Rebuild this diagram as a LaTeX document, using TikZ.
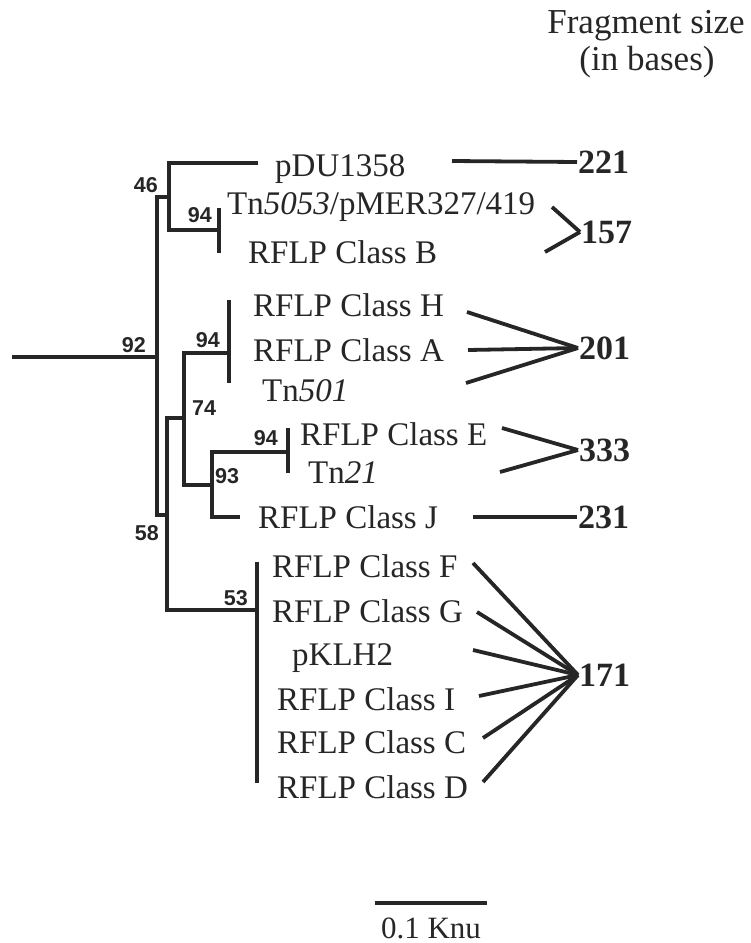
\documentclass[tikz,border=0pt]{standalone}
\usepackage{fontspec}
\setmainfont{Liberation Serif}
\newfontfamily\bootfont{Liberation Sans}
\usepackage{xcolor}
\usetikzlibrary{positioning}

\begin{document}
\begin{tikzpicture}[x=1pt, y=-1pt, color=black!85,
  br/.style={line width=3.6pt},
  cn/.style={line width=3.8pt},
  leaf/.style={anchor=base west, inner sep=0pt, font=\fontsize{33}{36}\selectfont},
  boot/.style={inner sep=0pt, font=\bootfont\bfseries\fontsize{21.5}{23}\selectfont},
  size/.style={anchor=west, inner sep=1pt, font=\bfseries\fontsize{34}{36}\selectfont}]
  \useasboundingbox (0,0) rectangle (751,943);

  % branch points of the tree
  \coordinate (root) at (12,357);
  \coordinate (c92) at (157,357);
  \coordinate (c46) at (169,197);
  \coordinate (c58) at (167,515);
  \coordinate (c94a) at (219,230);
  \coordinate (c74) at (184,418);
  \coordinate (c94b) at (229,353);
  \coordinate (c93) at (212,485);
  \coordinate (c94c) at (288,452);
  \coordinate (c53) at (257,610);
  \coordinate (tpdu) at (258,163);
  \coordinate (tj) at (240,517);

  \draw[br] (root) -- (c92);
  \draw[br] (c46) -| (c92) |- (c58);
  \draw[br] (tpdu) -| (c46) |- (c94a);
  \draw[br] (c74) -| (c58) |- (c53);
  \draw[br] (c94b) -| (c74) |- (c93);
  \draw[br] (c94c) -| (c93) |- (tj);
  \foreach \c/\up/\dn in {c94a/22/23, c94b/53/30, c94c/24/21, c53/48/173}
    \draw[br] (\c) ++(0,-\up) -- ++(0,\up+\dn);

  % bootstrap values
  \foreach \n/\x/\y/\v in {b46/158/192/46, b92/146/352/92, b94a/212/222/94,
                           b94b/220/347/94, b94c/278/445/94, b58/159/540/58, b53/248/605/53}
    \node[boot, anchor=base east] (\n) at (\x,\y) {\v};
  \node[boot, anchor=base west] (b74) at (192,415) {74};
  \node[boot, anchor=base west] (b93) at (215,483) {93};

  % leaves
  \foreach \n/\x/\y/\t in {pdu/275/176/pDU1358, tn5053/227/214/{Tn\textit{5053}/pMER327/419},
                           clB/248/263/RFLP Class B, clH/253/316/RFLP Class H,
                           clA/253/361/RFLP Class A, tn501/262/401/Tn\textit{501},
                           clE/300/445/RFLP Class E, tn21/308/483/Tn\textit{21},
                           clJ/258/528/RFLP Class J, clF/272/577/RFLP Class F,
                           clG/272/622/RFLP Class G, pklh/292/665/pKLH2,
                           clI/277/710/RFLP Class I, clC/277/753/RFLP Class C,
                           clD/277/798/RFLP Class D}
    \node[leaf] (\n) at (\x,\y) {\t};

  % fragment sizes
  \node[anchor=base, font=\fontsize{35}{36}\selectfont] (hdr1) at (646,33) {Fragment size};
  \node[anchor=base, font=\fontsize{35}{36}\selectfont] (hdr2) at (647,70) {(in bases)};
  \foreach \n/\x/\y in {221/577/162, 157/580/232, 201/578/348, 333/578/450, 231/577/517, 171/578/675}
    \node[size] (s\n) at (\x,\y) {\n};
  \foreach \x/\y/\s [count=\i] in {452/161/221, 552/207/157, 545/252/157,
                                   467/312/201, 468/350/201, 466/383/201,
                                   502/428/333, 500/472/333, 473/517/231,
                                   473/563/171, 477/612/171, 473/650/171,
                                   479/696/171, 483/738/171, 483/782/171}{
    \coordinate (end\i) at (\x,\y);
    \draw[cn] (end\i) -- (s\s.west);
  }

  % scale bar
  \coordinate (barL) at (375,903);
  \coordinate (barR) at (487,903);
  \draw[br] (barL) -- (barR);
  \node[anchor=base, font=\fontsize{31}{33}\selectfont] (bar) at (431,938) {0.1 Knu};
\end{tikzpicture}
\end{document}
